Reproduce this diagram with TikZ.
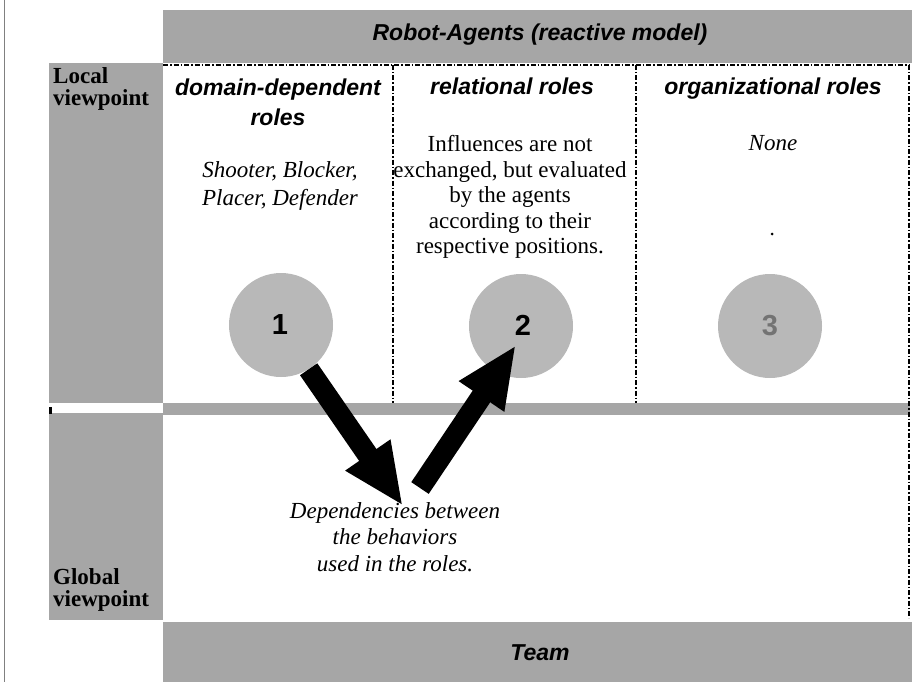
\documentclass[tikz,border=0pt]{standalone}
\usepackage{fontspec}
\setmainfont{Liberation Serif}
\setsansfont{Liberation Sans}
\usetikzlibrary{arrows.meta}
\begin{document}
\begin{tikzpicture}[x=1pt,y=-1pt,
  band/.style={fill=black!35, draw=none},
  hdr/.style={font=\sffamily\bfseries\itshape\fontsize{23}{30}\selectfont, align=center, inner sep=0pt},
  body/.style={font=\fontsize{23}{26}\selectfont, align=center, inner sep=0pt},
  vp/.style={font=\bfseries\fontsize{23}{22}\selectfont, align=left, anchor=base west, inner sep=0pt},
  sep/.style={line width=2pt, dash pattern=on 5pt off 2pt on 1.5pt off 2pt},
  bigarrow/.style={line width=21pt, -{Triangle[length=62pt,width=50pt]}},
  circ/.style={circle, fill=black!28, minimum size=104pt, inner sep=0pt},
  num/.style={font=\sffamily\bfseries\fontsize{29}{29}\selectfont, inner sep=0pt}]
\useasboundingbox (0,0) rectangle (912,682);
% frame line at left
\draw[black!50, line width=1pt] (4,0) -- (4,682);
% gray bands
\fill[band] (163,10) rectangle (912,63);
\fill[band] (49,63) rectangle (163,620);
\fill[white] (49,403) rectangle (163,413);
\fill[black] (49,407) rectangle (52,414);
\fill[band] (163,403) rectangle (910,415);
\fill[band] (163,622) rectangle (912,682);
% dashed separators
\draw[sep] (163,65) -- (910,65);
\draw[sep] (393,65) -- (393,403);
\draw[sep] (636,65) -- (636,403);
\draw[sep] (909,65) -- (909,618);
% titles
\node[hdr, anchor=base] (title) at (540,41) {Robot-Agents (reactive model)};
\node[hdr, anchor=base] (team) at (540,660) {Team};
\node[vp] (local) at (53,106) {Local\\viewpoint};
\node[vp] (global) at (53,606) {Global\\viewpoint};
% column headers
\node[hdr, anchor=base] (h1) at (278,125) {domain-dependent\\roles};
\node[hdr, anchor=base] (h2) at (512,95) {relational roles};
\node[hdr, anchor=base] (h3) at (773,95) {organizational roles};
% column bodies
\node[body, font=\itshape\fontsize{23}{28}\selectfont] (b1) at (280,186) {Shooter, Blocker,\\Placer, Defender};
\node[body, font=\fontsize{23}{25.5}\selectfont] (b2) at (510,197) {Influences are not\\exchanged, but evaluated\\by the agents\\according to their\\respective positions.};
\node[body, font=\itshape\fontsize{23}{26}\selectfont] (b3) at (773,143) {None};
\fill (772,234) circle (1.5pt);
% circles
\node[circ] (c1) at (281,325) {};
\node[circ] (c2) at (521,326) {};
\node[circ] (c3) at (770,326) {};
% dependency text
\node[body, font=\itshape\fontsize{23}{26.5}\selectfont] (dep) at (395,537) {Dependencies between\\the behaviors\\used in the roles.};
% arrows
\coordinate (t1) at (403,506);
\coordinate (s2) at (420,488);
\coordinate (t2) at (516,345);
\draw[bigarrow] (c1.-58) -- (t1);
\draw[bigarrow] (s2) -- (t2);
% circle numbers
\node[num] (n1) at (280,325) {1};
\node[num] (n2) at (523,325) {2};
\node[num, text=black!55] (n3) at (770,326) {3};
\end{tikzpicture}
\end{document}
